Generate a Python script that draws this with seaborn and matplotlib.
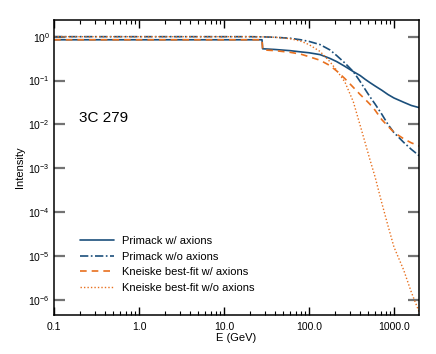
import numpy as np
import pandas as pd
import seaborn as sns
import matplotlib.pyplot as plt
from matplotlib.ticker import LogLocator, FixedLocator, NullLocator, NullFormatter

sns.set_style('ticks')
plt.rcParams['font.family'] = ['Liberation Sans', 'DejaVu Sans']
plt.rcParams['text.color'] = 'black'
plt.rcParams['axes.labelcolor'] = 'black'
plt.rcParams['axes.edgecolor'] = 'black'

# Energia (GeV) e intensidades
energia = [0.1, 1, 10, 20, 28, 28.5, 40, 60, 80, 100, 135, 176, 212, 265, 332,
           400, 460, 520, 600, 720, 850, 1000, 1300, 1600, 2000]

primack_com = [0.85, 0.85, 0.85, 0.85, 0.85, 0.53, 0.51, 0.48, 0.45, 0.43, 0.39, 0.32,
               0.27, 0.21, 0.16, 0.13, 0.106, 0.09, 0.075, 0.06, 0.048, 0.04,
               0.032, 0.027, 0.024]
primack_sem = [1.0, 1.0, 1.0, 1.0, 0.99, 0.99, 0.97, 0.92, 0.85, 0.78, 0.66, 0.5,
               0.37, 0.25, 0.16, 0.095, 0.062, 0.043, 0.029, 0.017, 0.0100, 0.0065,
               0.0039, 0.0027, 0.0019]
kneiske_com = [0.85, 0.85, 0.85, 0.85, 0.85, 0.50, 0.48, 0.44, 0.40, 0.35, 0.29, 0.22,
               0.165, 0.11, 0.07, 0.048, 0.037, 0.029, 0.021, 0.0128, 0.0091, 0.0066,
               0.0047, 0.0038, 0.0032]
kneiske_sem = [1.0, 1.0, 1.0, 1.0, 0.99, 0.99, 0.97, 0.9, 0.79, 0.66, 0.46, 0.27,
               0.17, 0.092, 0.033, 0.0095, 0.0037, 0.0016, 6.3e-4, 1.6e-4, 4.9e-5,
               1.6e-5, 4.8e-6, 1.5e-6, 5e-7]

x_labels = ['0.1', '1.0', '10.0', '100.0', '1000.0']
x_ticks = [0.1, 1, 10, 100, 1000]
y_ticks = [1e-6, 1e-5, 1e-4, 1e-3, 1e-2, 1e-1, 1]

azul = '#1b4f7b'
laranja = '#e8701e'

fig, ax = plt.subplots(figsize=(4.36, 3.54), dpi=100)
fig.subplots_adjust(left=0.124, right=0.961, top=0.9435, bottom=0.110)

sns.lineplot(x=energia, y=primack_com, ax=ax, color=azul, lw=1.2,
             label='Primack w/ axions')
sns.lineplot(x=energia, y=primack_sem, ax=ax, color=azul, lw=1.2,
             linestyle=(0, (5, 1.5, 1, 1.5)), label='Primack w/o axions')
sns.lineplot(x=energia, y=kneiske_com, ax=ax, color=laranja, lw=1.2,
             linestyle=(0, (4, 3)), label='Kneiske best-fit w/ axions')
sns.lineplot(x=energia, y=kneiske_sem, ax=ax, color=laranja, lw=1.0,
             linestyle=(0, (1, 1.5)), label='Kneiske best-fit w/o axions')

ax.set_xscale('log')
ax.set_yscale('log')
ax.set_xlim(0.1, 1970)
ax.set_ylim(4.5e-7, 2.4)

ax.xaxis.set_major_locator(FixedLocator(x_ticks))
ax.set_xticklabels(x_labels)
ax.xaxis.set_minor_locator(LogLocator(base=10, subs=np.arange(2, 10)))
ax.xaxis.set_minor_formatter(NullFormatter())
ax.yaxis.set_major_locator(FixedLocator(y_ticks))
ax.yaxis.set_minor_locator(NullLocator())

ax.tick_params(axis='x', which='major', direction='in', length=6, width=1,
               color='black', labelcolor='black', top=True, labelsize=7.5, pad=5)
ax.tick_params(axis='x', which='minor', direction='in', length=3, width=0.8,
               color='black', top=True)
ax.tick_params(axis='y', which='major', direction='in', length=8, width=1.6,
               color='0.45', labelcolor='black', right=True, labelsize=7.5, pad=3)
for s in ax.spines.values():
    s.set_linewidth(1.1)
    s.set_color('black')

ax.set_xlabel('E (GeV)', fontsize=8, labelpad=1)
ax.set_ylabel('Intensity', fontsize=8, labelpad=2)
ax.text(0.068, 0.668, '3C 279', transform=ax.transAxes, fontsize=11, va='center')

ax.legend(loc='lower left', bbox_to_anchor=(0.07, 0.075), frameon=False, fontsize=8,
          handlelength=3.1, handletextpad=0.7, labelspacing=0.5, borderpad=0,
          borderaxespad=0)

plt.savefig('out.png', dpi=100)
